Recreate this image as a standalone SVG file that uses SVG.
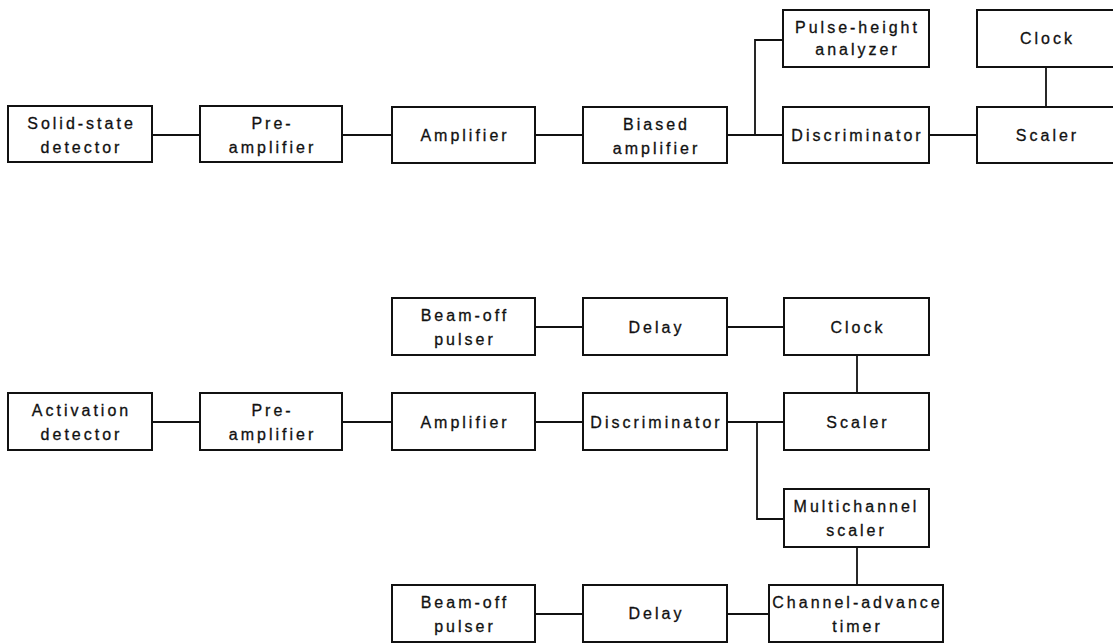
<svg xmlns="http://www.w3.org/2000/svg" width="1113" height="644" viewBox="0 0 1113 644">
<style>
rect{fill:#fff;stroke:#111;stroke-width:2}
.c line,.c path{stroke:#111;stroke-width:1.8;fill:none}
text{font-family:"Liberation Sans",Arial,sans-serif;font-size:16px;letter-spacing:3px;fill:#111;stroke:#111;stroke-width:0.3;text-anchor:middle}
</style>
<rect width="1113" height="644" style="fill:#fff;stroke:none"/>
<g class="c" id="connectors">
<line x1="152" y1="135" x2="200" y2="135"/>
<line x1="342" y1="135" x2="392" y2="135"/>
<line x1="535" y1="135" x2="583" y2="135"/>
<line x1="727" y1="135" x2="783" y2="135"/>
<path d="M755 135V40H783"/>
<line x1="929" y1="135" x2="977" y2="135"/>
<line x1="1046" y1="67" x2="1046" y2="107"/>
<line x1="535" y1="327" x2="583" y2="327"/>
<line x1="727" y1="327" x2="784" y2="327"/>
<line x1="857" y1="355" x2="857" y2="393"/>
<line x1="152" y1="422" x2="200" y2="422"/>
<line x1="342" y1="422" x2="392" y2="422"/>
<line x1="535" y1="422" x2="583" y2="422"/>
<line x1="727" y1="422" x2="784" y2="422"/>
<path d="M757 422V519H784"/>
<line x1="857" y1="547" x2="857" y2="585"/>
<line x1="535" y1="614" x2="583" y2="614"/>
<line x1="727" y1="614" x2="769" y2="614"/>
</g>
<g id="solid-state"><rect x="8" y="106" width="144" height="56"/><text x="81.5" y="129">Solid-state</text><text x="81.5" y="153">detector</text></g>
<g id="preamp1"><rect x="200" y="106" width="142" height="56"/><text x="272.5" y="129">Pre-</text><text x="272.5" y="153">amplifier</text></g>
<g id="amp1"><rect x="392" y="107" width="143" height="56"/><text x="465" y="141">Amplifier</text></g>
<g id="biased"><rect x="583" y="107" width="144" height="56"/><text x="656.5" y="130">Biased</text><text x="656.5" y="154">amplifier</text></g>
<g id="pha"><rect x="783" y="10" width="146" height="57"/><text x="857.5" y="33">Pulse-height</text><text x="857.5" y="55">analyzer</text></g>
<g id="disc1"><rect x="783" y="107" width="146" height="56"/><text x="857.5" y="141">Discriminator</text></g>
<g id="clock1"><rect x="977" y="10" width="137" height="57"/><text x="1047.5" y="44">Clock</text></g>
<g id="scaler1"><rect x="977" y="107" width="137" height="56"/><text x="1047.5" y="141">Scaler</text></g>
<g id="beam1"><rect x="392" y="298" width="143" height="57"/><text x="465" y="321">Beam-off</text><text x="465" y="345">pulser</text></g>
<g id="delay1"><rect x="583" y="298" width="144" height="57"/><text x="656.5" y="333">Delay</text></g>
<g id="clock2"><rect x="784" y="298" width="145" height="57"/><text x="858" y="333">Clock</text></g>
<g id="activation"><rect x="8" y="393" width="144" height="57"/><text x="81.5" y="416">Activation</text><text x="81.5" y="440">detector</text></g>
<g id="preamp2"><rect x="200" y="393" width="142" height="57"/><text x="272.5" y="416">Pre-</text><text x="272.5" y="440">amplifier</text></g>
<g id="amp2"><rect x="392" y="393" width="143" height="57"/><text x="465" y="428">Amplifier</text></g>
<g id="disc2"><rect x="583" y="393" width="144" height="57"/><text x="656.5" y="428">Discriminator</text></g>
<g id="scaler2"><rect x="784" y="393" width="145" height="57"/><text x="858" y="428">Scaler</text></g>
<g id="mcs"><rect x="784" y="489" width="145" height="58"/><text x="856.5" y="512">Multichannel</text><text x="856.5" y="536">scaler</text></g>
<g id="cat"><rect x="769" y="585" width="174" height="57"/><text x="857.5" y="608">Channel-advance</text><text x="857.5" y="632">timer</text></g>
<g id="beam2"><rect x="392" y="585" width="143" height="57"/><text x="465" y="608">Beam-off</text><text x="465" y="632">pulser</text></g>
<g id="delay2"><rect x="583" y="585" width="144" height="57"/><text x="656.5" y="619">Delay</text></g>
</svg>
